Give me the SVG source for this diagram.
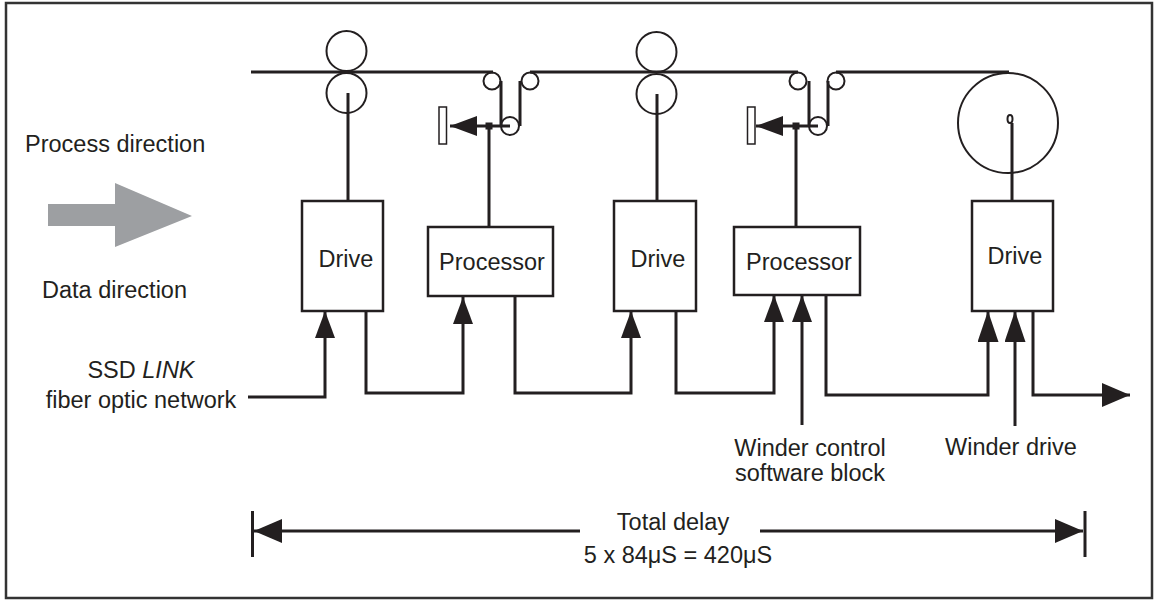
<svg xmlns="http://www.w3.org/2000/svg" width="1155" height="600" viewBox="0 0 1155 600">
<style>
.ln{fill:none;stroke:#231f20;stroke-width:3}
.rl{fill:none;stroke:#231f20;stroke-width:2}
.bx{fill:#fff;stroke:#231f20;stroke-width:2.5}
.t{font-family:"Liberation Sans",Arial,sans-serif;font-size:23.5px;fill:#231f20}
.fl{fill:#231f20}
</style>
<defs>
<marker id="ah" markerUnits="userSpaceOnUse" markerWidth="27" markerHeight="20" refX="27" refY="10" orient="auto"><path d="M0,0 L27,10 L0,20 z" fill="#231f20"/></marker>
<marker id="ahL" markerUnits="userSpaceOnUse" markerWidth="31" markerHeight="21" refX="31" refY="10.5" orient="auto"><path d="M0,0 L31,10.5 L0,21 z" fill="#231f20"/></marker>
<marker id="ahW" markerUnits="userSpaceOnUse" markerWidth="28" markerHeight="24" refX="28" refY="12" orient="auto"><path d="M0,0 L28,12 L0,24 z" fill="#231f20"/></marker>
</defs>
<rect x="6" y="3" width="1146" height="595" fill="#fff" stroke="#333" stroke-width="2.5"/>

<g id="web">
<path class="ln" d="M251,72 H493 M530,72 H798 M836,72 H1009"/>
<path class="ln" d="M501,81 V126 M520,126 V81 M809,81 V126 M828,126 V81"/>
</g>

<g id="nip1">
<circle class="rl" cx="346.5" cy="51" r="20"/>
<circle class="rl" cx="346.5" cy="93" r="20"/>
</g>
<g id="dancer1">
<circle class="rl" cx="492" cy="81" r="8.5"/>
<circle class="rl" cx="510" cy="126" r="9"/>
<circle class="rl" cx="530" cy="81" r="8.5"/>
<rect x="439" y="107" width="7.5" height="37" fill="#fff" stroke="#231f20" stroke-width="1.5"/>
<path class="ln" d="M510,126 H450" marker-end="url(#ah)"/>
<rect class="fl" x="485.5" y="122.5" width="7" height="7"/>
</g>
<g id="nip2">
<circle class="rl" cx="656.5" cy="52" r="20"/>
<circle class="rl" cx="656.5" cy="94" r="20"/>
</g>
<g id="dancer2">
<circle class="rl" cx="798" cy="81" r="8.5"/>
<circle class="rl" cx="818" cy="126" r="9"/>
<circle class="rl" cx="836" cy="81" r="8.5"/>
<rect x="747.5" y="107" width="7.5" height="37" fill="#fff" stroke="#231f20" stroke-width="1.5"/>
<path class="ln" d="M818,126 H756" marker-end="url(#ah)"/>
<rect class="fl" x="792.5" y="122.5" width="7" height="7"/>
</g>
<g id="winder">
<circle class="rl" cx="1008" cy="123" r="50"/>
<ellipse class="rl" cx="1010" cy="119" rx="2.5" ry="4"/>
</g>

<g id="connectors">
<path class="ln" d="M348,93 V201 M489,126 V227 M657,94 V201 M796,126 V227 M1012,123 V201"/>
<polyline class="ln" points="248,397 325,397 325,311" marker-end="url(#ah)"/>
<polyline class="ln" points="366,311 366,393 463,393 463,297" marker-end="url(#ah)"/>
<polyline class="ln" points="515,296 515,393 631,393 631,311" marker-end="url(#ah)"/>
<polyline class="ln" points="676,311 676,393 774,393 774,295" marker-end="url(#ah)"/>
<polyline class="ln" points="802,425 802,295" marker-end="url(#ah)"/>
<polyline class="ln" points="826,295 826,395 988,395 988,311" marker-end="url(#ahL)"/>
<polyline class="ln" points="1015,426 1015,311" marker-end="url(#ahL)"/>
<polyline class="ln" points="1033,311 1033,395 1130,395" marker-end="url(#ahW)"/>
</g>

<g id="drive1">
<rect class="bx" x="302" y="201" width="81" height="110"/>
<text class="t" x="346" y="267" text-anchor="middle">Drive</text>
</g>
<g id="processor1">
<rect class="bx" x="428" y="227" width="125" height="69"/>
<text class="t" x="492" y="270" text-anchor="middle">Processor</text>
</g>
<g id="drive2">
<rect class="bx" x="614" y="201" width="82" height="110"/>
<text class="t" x="658" y="267" text-anchor="middle">Drive</text>
</g>
<g id="processor2">
<rect class="bx" x="734" y="227" width="126" height="68"/>
<text class="t" x="799" y="270" text-anchor="middle">Processor</text>
</g>
<g id="drive3">
<rect class="bx" x="972" y="201" width="81" height="110"/>
<text class="t" x="1015" y="264" text-anchor="middle">Drive</text>
</g>

<g id="legend">
<text class="t" x="25" y="152">Process direction</text>
<polygon points="48,204 115,204 115,183 192,216 115,247 115,226 48,226" fill="#9d9fa2"/>
<text class="t" x="42" y="298">Data direction</text>
<text class="t" x="141" y="378" text-anchor="middle">SSD <tspan font-style="italic">LINK</tspan></text>
<text class="t" x="141" y="408" text-anchor="middle">fiber optic network</text>
</g>

<g id="labels">
<text class="t" x="810" y="456" text-anchor="middle">Winder control</text>
<text class="t" x="810" y="481" text-anchor="middle">software block</text>
<text class="t" x="945" y="455">Winder drive</text>
</g>

<g id="delay">
<path class="ln" d="M252.5,511 V557 M1085,511 V557"/>
<path class="ln" d="M580,531 H254" marker-end="url(#ahW)"/>
<path class="ln" d="M760,531 H1083" marker-end="url(#ahW)"/>
<text class="t" x="673" y="530" text-anchor="middle">Total delay</text>
<text class="t" x="678" y="563" text-anchor="middle">5 x 84μS = 420μS</text>
</g>
</svg>
